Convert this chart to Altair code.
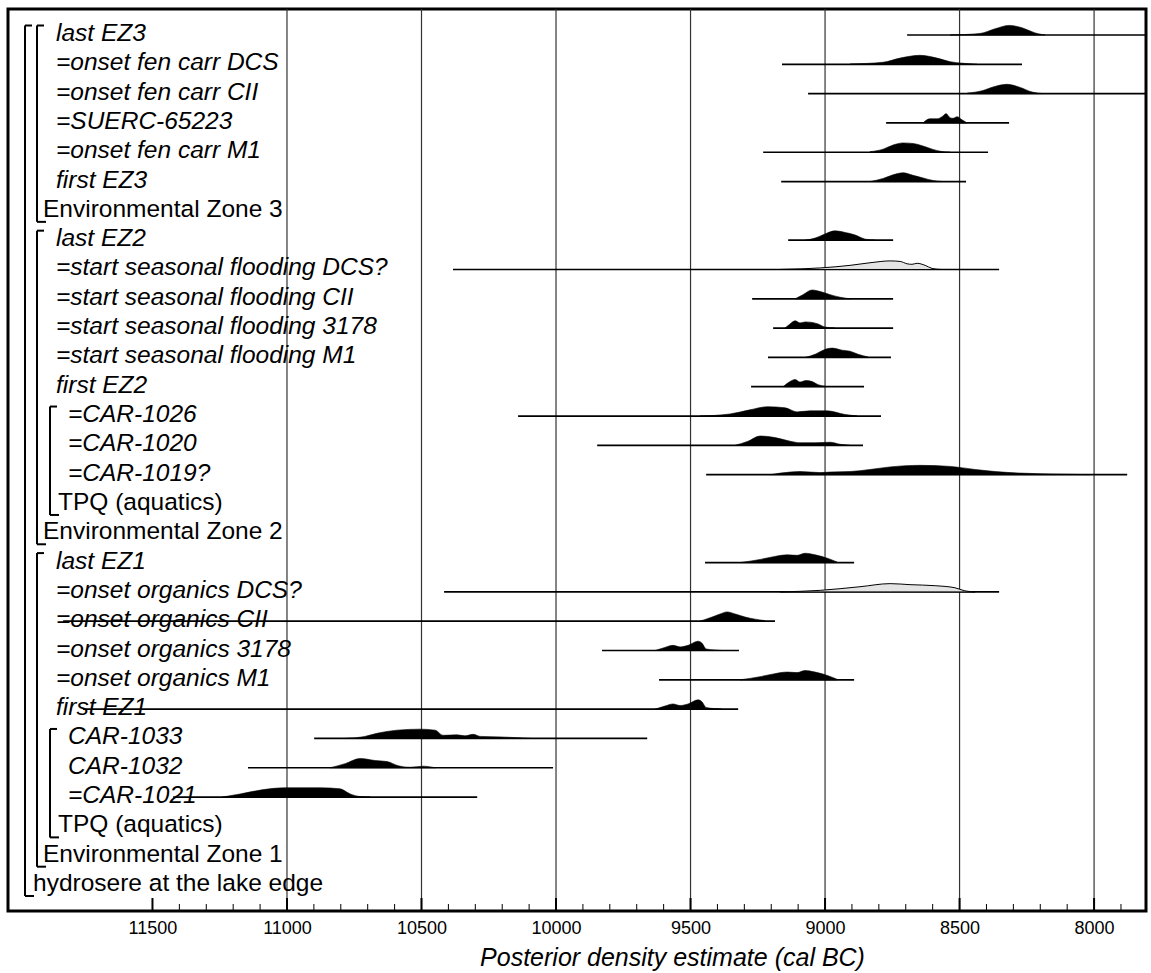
import altair as alt
import pandas as pd

# ---- row labels (top to bottom) and how each one is set ----
row_labels = [
    "last EZ3", "=onset fen carr DCS", "=onset fen carr CII", "=SUERC-65223",
    "=onset fen carr M1", "first EZ3", "Environmental Zone 3",
    "last EZ2", "=start seasonal flooding DCS?", "=start seasonal flooding CII",
    "=start seasonal flooding 3178", "=start seasonal flooding M1", "first EZ2",
    "=CAR-1026", "=CAR-1020", "=CAR-1019?", "TPQ (aquatics)", "Environmental Zone 2",
    "last EZ1", "=onset organics DCS?", "=onset organics CII", "=onset organics 3178",
    "=onset organics M1", "first EZ1", "CAR-1033", "CAR-1032", "=CAR-1021",
    "TPQ (aquatics)", "Environmental Zone 1", "hydrosere at the lake edge",
]
row_kinds = [
    "item", "item", "item", "item", "item", "item", "zone",
    "item", "item", "item", "item", "item", "item",
    "date", "date", "date", "group", "zone",
    "item", "item", "item", "item", "item", "item",
    "date", "date", "date", "group", "zone", "sequence",
]

# ---- 95.4% ranges (cal BC); None where a row carries no distribution ----
range_from = [8695, 9160, 9063, 8773, 9230, 9163, None,
              9137, 10383, 9271, 9193, 9212, 9275,
              10141, 9847, 9442, None, None,
              9446, 10416, 11832, 9829, 9617, 11758,
              10899, 11145, 11423, None, None, None]
range_to = [7810, 8268, 7810, 8316, 8394, 8476, None,
            8747, 8353, 8747, 8747, 8755, 8855,
            8792, 8859, 7877, None, None,
            8892, 8353, 9186, 9320, 8892, 9323,
            9661, 10011, 10293, None, None, None]

# ---- posterior density outlines: cal BC and relative probability (mode = 9) ----
last_ez3_cal = [8535, 8424, 8368, 8316, 8268, 8219, 8182]
last_ez3_p = [0, 1.5, 6, 9.3, 7, 2, 0]
fen_dcs_cal = [8907, 8784, 8721, 8647, 8584, 8535, 8487, 8435]
fen_dcs_p = [0.3, 2, 6, 8.7, 6, 2.5, 1, 0]
fen_cii_cal = [8472, 8413, 8375, 8323, 8275, 8230, 8190]
fen_cii_p = [0.5, 3, 6.5, 9, 6, 1.5, 0]
suerc_cal = [8636, 8610, 8584, 8565, 8550, 8535, 8524, 8509, 8491, 8472]
suerc_p = [0, 4, 4, 6, 9, 5, 4.5, 6, 3, 0]
fen_m1_cal = [8833, 8784, 8747, 8710, 8673, 8636, 8602, 8572, 8535]
fen_m1_p = [0.5, 3, 7, 9, 8.5, 6, 3, 1, 0]
first_ez3_cal = [8833, 8784, 8747, 8710, 8673, 8636, 8598, 8561]
first_ez3_p = [0, 3, 6.5, 8.5, 6, 3.5, 1, 0]

last_ez2_cal = [9074, 9037, 9000, 8963, 8926, 8888, 8851, 8814]
last_ez2_p = [0, 2, 6, 9, 7.5, 5, 1, 0]
flood_dcs_cal = [9167, 9018, 8907, 8833, 8758, 8721, 8695, 8677, 8658, 8628, 8602, 8572]
flood_dcs_p = [0, 1.5, 4, 6.5, 8.3, 7.8, 5.5, 5, 6, 4, 1, 0]
flood_cii_cal = [9111, 9082, 9048, 9018, 8981, 8944, 8907]
flood_cii_p = [0, 4, 8.5, 7, 4, 1.5, 0]
flood_3178_cal = [9149, 9130, 9111, 9093, 9074, 9048, 9026, 9000, 8963]
flood_3178_p = [0, 4, 7, 5, 6, 5.5, 4, 1, 0]
flood_m1_cal = [9074, 9037, 9007, 8974, 8937, 8907, 8877, 8840]
flood_m1_p = [0, 3, 7, 9, 7, 6, 3, 0.5]
first_ez2_cal = [9156, 9130, 9111, 9093, 9071, 9048, 9026, 9000]
first_ez2_p = [0, 5, 7, 4.5, 6, 5, 2, 0.5]
car1026_cal = [9465, 9353, 9279, 9215, 9149, 9104, 9056, 8992, 8926, 8881]
car1026_p = [0, 2, 6, 9, 8, 4, 5, 5, 1.5, 0]
car1020_cal = [9334, 9286, 9242, 9186, 9130, 9093, 9037, 8981, 8944, 8907]
car1020_p = [0, 4, 9, 7.5, 4, 2.5, 2.5, 3, 1, 0]
car1019_cal = [9204, 9130, 9093, 9018, 8981, 8907, 8833, 8758, 8647, 8535, 8442, 8368, 8275, 8126, 8015]
car1019_p = [0, 2.5, 3, 2, 2.5, 3, 5, 7.5, 9, 8, 5, 3, 1.5, 0.5, 0]

last_ez1_cal = [9316, 9242, 9186, 9141, 9104, 9074, 9037, 8989, 8955]
last_ez1_p = [0, 3, 6, 7.5, 7, 9, 7.5, 4, 0.5]
org_dcs_cal = [9167, 9018, 8870, 8758, 8684, 8591, 8517, 8480, 8442]
org_dcs_p = [0, 1.5, 5, 8, 7, 6, 4, 1, 0]
org_cii_cal = [9465, 9420, 9390, 9364, 9334, 9297, 9260, 9223]
org_cii_p = [0, 4, 7, 9, 7, 4, 2, 0.5]
org_3178_cal = [9632, 9595, 9565, 9539, 9509, 9472, 9457, 9442, 9409, 9383]
org_3178_p = [0, 3, 5, 3.5, 5, 9, 7, 1.5, 0.5, 0]
org_m1_cal = [9316, 9242, 9186, 9141, 9104, 9074, 9037, 8989, 8955]
org_m1_p = [0, 3, 6, 7.5, 7, 9, 7.5, 4, 0.5]
first_ez1_cal = [9632, 9595, 9565, 9539, 9509, 9472, 9457, 9442, 9409, 9383]
first_ez1_p = [0, 3, 5, 3.5, 5, 9, 7, 1.5, 0.5, 0]
car1033_cal = [10784, 10710, 10665, 10591, 10505, 10449, 10420, 10368, 10338, 10308, 10282, 10208, 10096]
car1033_p = [0, 2, 5, 8, 9, 8, 3, 3.5, 2.5, 4, 2, 1.5, 0]
car1032_cal = [10840, 10784, 10728, 10672, 10628, 10587, 10542, 10494, 10449]
car1032_p = [0, 4, 9, 7, 6, 2, 0.5, 1.5, 0]
car1021_cal = [11240, 11174, 11093, 11007, 10877, 10803, 10765, 10728, 10691]
car1021_p = [0, 3, 7, 9, 9, 8, 3, 0.5, 0]

# which row each outline belongs to; outlined-only (unmodelled) rows listed separately
density_rows = [
    (0, last_ez3_cal, last_ez3_p), (1, fen_dcs_cal, fen_dcs_p), (2, fen_cii_cal, fen_cii_p),
    (3, suerc_cal, suerc_p), (4, fen_m1_cal, fen_m1_p), (5, first_ez3_cal, first_ez3_p),
    (7, last_ez2_cal, last_ez2_p), (8, flood_dcs_cal, flood_dcs_p), (9, flood_cii_cal, flood_cii_p),
    (10, flood_3178_cal, flood_3178_p), (11, flood_m1_cal, flood_m1_p),
    (12, first_ez2_cal, first_ez2_p), (13, car1026_cal, car1026_p), (14, car1020_cal, car1020_p),
    (15, car1019_cal, car1019_p), (18, last_ez1_cal, last_ez1_p), (19, org_dcs_cal, org_dcs_p),
    (20, org_cii_cal, org_cii_p), (21, org_3178_cal, org_3178_p), (22, org_m1_cal, org_m1_p),
    (23, first_ez1_cal, first_ez1_p), (24, car1033_cal, car1033_p), (25, car1032_cal, car1032_p),
    (26, car1021_cal, car1021_p),
]
outline_rows = [8, 19]

major_ticks = [11500, 11000, 10500, 10000, 9500, 9000, 8500, 8000]
grid_years = [11000, 10500, 10000, 9500, 9000, 8500, 8000]
minor_ticks = [y for y in range(11500, 7800, -100) if y % 500 != 0]

# ---- layout ----
W, H = 1138, 902
ROW_PX = 29.31
PEAK = 9.3 / ROW_PX          # mode height in row units
FONT = "Liberation Sans"

x_scale = alt.Scale(domain=[7807, 12037], reverse=True, nice=False, zero=False)
y_scale = alt.Scale(domain=[-0.887, 29.887], reverse=True, nice=False, zero=False)

x_axis = alt.Axis(
    values=major_ticks, format="d", ticks=False, domain=False, grid=False,
    labelFont=FONT, labelFontSize=18, labelColor="black", labelPadding=8,
    title="Posterior density estimate (cal BC)", titleFont=FONT, titleFontSize=25,
    titleFontStyle="italic", titleFontWeight="normal", titleColor="black",
    titlePadding=8, titleX=664, titleAlign="center")


def X(field):
    return alt.X(field, type="quantitative", scale=x_scale, axis=x_axis)


def Y(field):
    return alt.Y(field, type="quantitative", scale=y_scale, axis=None)


grid_df = pd.DataFrame({"cal": grid_years})
label_df = pd.DataFrame({"cal": major_ticks})
grid = alt.Chart(grid_df).mark_rule(color="#333333", strokeWidth=1.2).encode(
    x=X("cal"), y=alt.value(0), y2=alt.value(H))
major = alt.Chart(label_df).mark_rule(color="black", strokeWidth=2).encode(
    x=X("cal"), y=alt.value(H - 13), y2=alt.value(H))
minor = alt.Chart(pd.DataFrame({"cal": minor_ticks})).mark_rule(color="black", strokeWidth=1).encode(
    x=X("cal"), y=alt.value(H - 7), y2=alt.value(H))

# range lines
rng = pd.DataFrame({"row": range(len(row_labels)), "lo": range_from, "hi": range_to}).dropna()
ranges = alt.Chart(rng).mark_rule(color="black", strokeWidth=1.7, clip=True).encode(
    x=X("lo"), x2="hi", y=Y("row"))

# densities
recs = []
for row, cal, p in density_rows:
    for c, v in zip(cal, p):
        recs.append({"row": row, "cal": c, "top": row - v / 9.0 * PEAK, "base": row,
                     "outline": row in outline_rows})
dens = pd.DataFrame(recs)
solid = alt.Chart(dens[~dens.outline]).mark_area(
    color="black", interpolate="monotone", stroke="black", strokeWidth=0.6, clip=True
).encode(x=X("cal"), y=Y("top"), y2="base", detail="row:N")
hollow = alt.Chart(dens[dens.outline]).mark_area(
    fill="#e4e4e4", interpolate="monotone", stroke="black", strokeWidth=1, clip=True
).encode(x=X("cal"), y=Y("top"), y2="base", detail="row:N")

# row labels
lab = pd.DataFrame({"row": range(len(row_labels)), "label": row_labels, "kind": row_kinds})
text_x = {"item": 48, "zone": 35, "date": 60, "group": 50, "sequence": 25}
italic = {"item", "date"}
texts = []
for kind, px in text_x.items():
    texts.append(alt.Chart(lab[lab.kind == kind]).mark_text(
        align="left", baseline="alphabetic", dy=6, font=FONT, fontSize=24.5, color="black",
        fontStyle="italic" if kind in italic else "normal",
    ).encode(x=alt.value(px), y=Y("row"), text="label:N"))

# structure brackets: (x pixel, first row, last row)
brackets = [(17, 0, 29), (29, 0, 6), (29, 7, 17), (29, 18, 28), (42, 13, 16), (42, 24, 27)]
TOP, BOT = 9.5 / ROW_PX, 11 / ROW_PX
bracket_layers = []
for bx, r0, r1 in brackets:
    seg = pd.DataFrame({"a": [r0 - TOP], "b": [r1 + BOT]})
    bracket_layers.append(alt.Chart(seg).mark_rule(color="black", strokeWidth=2).encode(
        x=alt.value(bx), y=Y("a"), y2="b"))
    bracket_layers.append(alt.Chart(seg).mark_rule(color="black", strokeWidth=2).encode(
        x=alt.value(bx), x2=alt.value(bx + 7), y=Y("a")))
    bracket_layers.append(alt.Chart(seg).mark_rule(color="black", strokeWidth=2).encode(
        x=alt.value(bx), x2=alt.value(bx + 9), y=Y("b")))

chart = alt.layer(
    grid, major, minor, ranges, hollow, solid, *texts, *bracket_layers
).properties(
    width=W, height=H, background="white",
    padding={"left": 8, "top": 8, "right": 5, "bottom": 5},
).configure_view(stroke="black", strokeWidth=3)

chart.save("out.html", embed_options={"renderer": "svg", "actions": False})
